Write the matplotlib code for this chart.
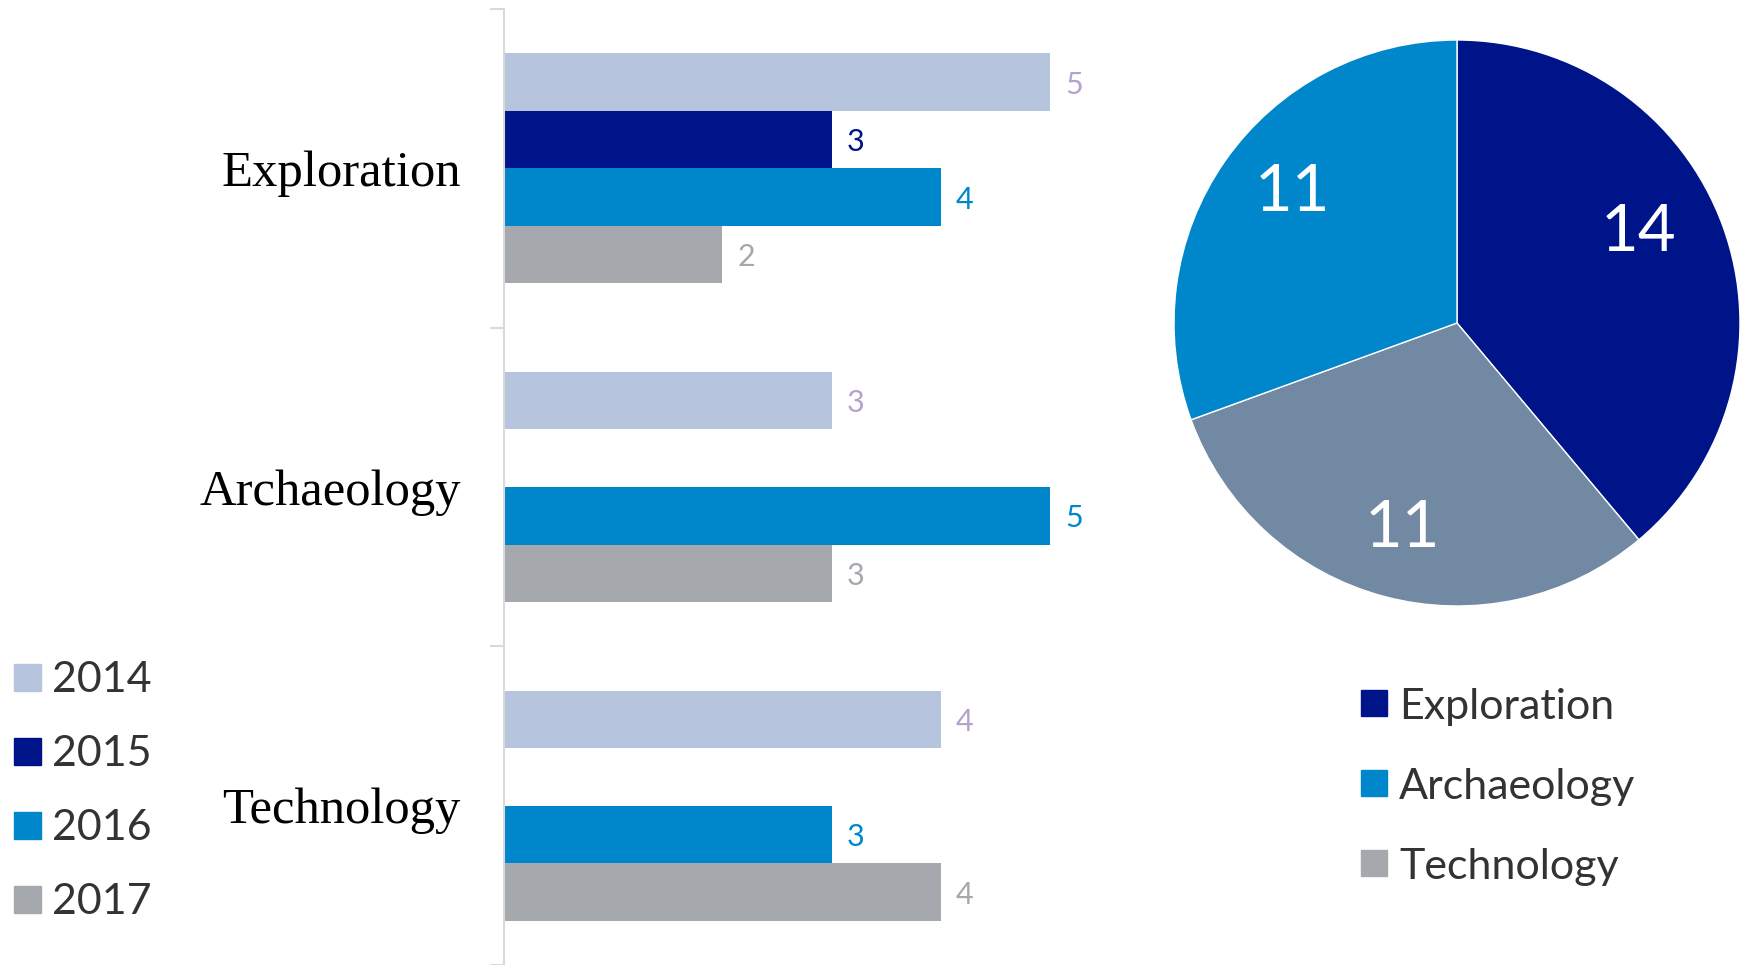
import matplotlib
matplotlib.use("Agg")
import matplotlib.pyplot as plt
from matplotlib.patches import Rectangle
import numpy as np

# ---- data ----
categories = ["Exploration", "Archaeology", "Technology"]
years = ["2014", "2015", "2016", "2017"]
values = {
    "2014": [5, 3, 4],
    "2015": [3, None, None],
    "2016": [4, 5, 3],
    "2017": [2, 3, 4],
}
pie_labels = ["Exploration", "Technology", "Archaeology"]
pie_values = [14, 11, 11]
legend_pie = ["Exploration", "Archaeology", "Technology"]

# ---- styles ----
bar_colors = {"2014": "#B7C4DE", "2015": "#00148A", "2016": "#0087CB", "2017": "#A5A9AD"}
label_colors = {"2014": "#B3A3CC", "2015": "#00148A", "2016": "#0087CB", "2017": "#A5A9AD"}
pie_colors = {"Exploration": "#00148A", "Technology": "#7289A4", "Archaeology": "#0087CB"}
legend_pie_colors = {"Exploration": "#00148A", "Archaeology": "#0087CB", "Technology": "#A5A9AD"}
sans = ["Lato", "DejaVu Sans"]
serif = ["Liberation Serif", "DejaVu Serif"]

W, H = 1744, 965
fig = plt.figure(figsize=(W / 100, H / 100), dpi=100)
fig.patch.set_facecolor("white")

def px(x0, y0_top, w, h):
    return [x0 / W, (H - y0_top - h) / H, w / W, h / H]

# ---- bar chart ----
ax = fig.add_axes(px(504, 9, 655, 956))
h = 0.1806
y = np.arange(len(categories))
for i, yr in enumerate(years):
    vals = values[yr]
    ys = y + (i - 1.5) * h
    for yy, v in zip(ys, vals):
        if v is None:
            continue
        ax.barh(yy, v, height=h, color=bar_colors[yr], edgecolor="none")
        ax.text(v + 0.14, yy + 0.008, str(v), color=label_colors[yr], fontsize=22,
                family=sans, va="center", ha="left")
ax.set_xlim(0, 6)
ax.set_ylim(2.5, -0.5)
for s in ["top", "right", "bottom"]:
    ax.spines[s].set_visible(False)
ax.spines["left"].set_color("#D9D9D9")
ax.spines["left"].set_linewidth(1.5)
ax.set_xticks([])
ax.set_yticks(np.arange(-0.5, 3.0, 1.0))
ax.set_yticklabels([])
ax.tick_params(axis="y", which="major", length=10, color="#D9D9D9", width=1.5)
ax.set_yticks(y, minor=True)
ax.set_yticklabels(categories, minor=True, fontsize=36.5, family=serif, color="black")
ax.tick_params(axis="y", which="minor", length=0, pad=31)
for t in ax.get_yticklabels(minor=True):
    t.set_va("center_baseline")

# left legend
for i, yr in enumerate(years):
    cy = 677 + i * 74
    fig.patches.append(Rectangle((14 / W, (H - cy - 13.5) / H), 27 / W, 27 / H,
                                 transform=fig.transFigure, color=bar_colors[yr]))
    fig.text(52 / W, (H - cy) / H, yr, fontsize=31, family=sans, color="#333333",
             va="center_baseline", ha="left")

# ---- pie ----
pax = fig.add_axes(px(1457 - 283, 323 - 283, 566, 566))
total = sum(pie_values)
wedges, texts, autotexts = pax.pie(
    pie_values, colors=[pie_colors[l] for l in pie_labels], startangle=90,
    counterclock=False, pctdistance=0.75,
    autopct=lambda p: f"{round(p * total / 100)}",
    wedgeprops=dict(edgecolor="white", linewidth=1),
    textprops=dict(color="white", fontsize=47, family=sans))
autotexts[0].set_position((0.64, 0.32))
autotexts[2].set_position((-0.58, 0.46))
pax.set_xlim(-1, 1)
pax.set_ylim(-1, 1)
pax.set_aspect("equal")

# right legend
for i, lab in enumerate(legend_pie):
    cy = 703 + i * 80
    fig.patches.append(Rectangle((1361 / W, (H - cy - 13) / H), 26 / W, 26 / H,
                                 transform=fig.transFigure, color=legend_pie_colors[lab]))
    fig.text(1399 / W, (H - cy) / H, lab, fontsize=31, family=sans, color="#333333",
             va="center_baseline", ha="left")

fig.savefig("out.png", dpi=100, facecolor="white")
